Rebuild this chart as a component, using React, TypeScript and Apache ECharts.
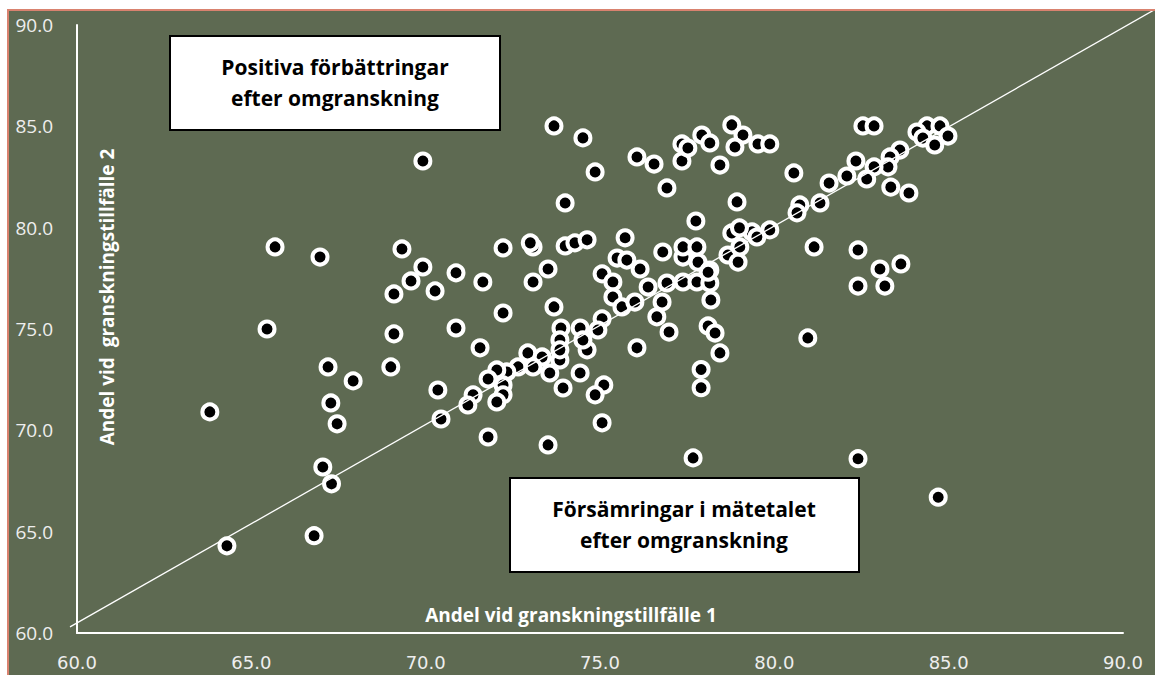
import React, { useEffect, useRef } from "react";
import * as echarts from "echarts";

// Andel vid granskningstillfälle 1 (x) and 2 (y), one entry per unit
const granskning1: number[] = [
  65.68, 66.97, 69.32, 69.92, 69.58, 70.87, 69.09, 70.27, 70.87, 69.09,
  65.45, 67.2, 67.92, 69.0, 70.35, 67.28, 67.46, 63.81, 70.44, 67.05,
  67.3, 64.3, 66.8, 73.68, 74.51, 69.92, 74.86, 76.06, 76.55, 77.35,
  77.35, 76.92, 77.75, 74.0, 72.22, 73.08, 73.0, 74.0, 74.28, 74.63,
  75.72, 75.49, 75.77, 76.8, 76.15, 75.06, 75.37, 76.38, 77.38, 76.78,
  75.37, 75.63, 76.0, 76.63, 76.98, 75.06, 76.06, 73.51, 73.08, 73.68,
  72.22, 71.64, 71.56, 73.88, 74.43, 74.94, 74.63, 73.85, 73.85, 73.56,
  74.43, 73.94, 75.11, 74.86, 72.93, 73.34, 72.65, 73.08, 72.33, 72.04,
  71.79, 72.22, 72.22, 71.36, 77.9, 77.9, 77.38, 77.81, 78.15, 77.78,
  76.92, 78.15, 78.67, 78.96, 78.18, 78.1, 78.3, 78.44, 77.67, 73.51,
  71.79, 75.06, 73.85, 74.51, 72.04, 71.21, 78.78, 79.1, 77.92, 78.15,
  77.52, 78.87, 79.53, 79.87, 78.44, 78.93, 80.56, 82.54, 82.86, 84.38,
  84.75, 84.09, 84.98, 84.26, 84.6, 83.6, 83.32, 83.26, 82.86, 82.34,
  82.65, 83.34, 83.86, 82.08, 81.57, 81.31, 80.73, 80.65, 81.14, 82.4,
  83.63, 83.03, 82.4, 83.17, 80.96, 79.87, 79.36, 78.78, 79.0, 79.01,
  79.5, 77.38, 77.78, 78.1, 82.4, 84.7,
];

const granskning2: number[] = [
  79.05, 78.55, 78.95, 78.06, 77.37, 77.77, 76.73, 76.88, 75.05, 74.76,
  75.0, 73.13, 72.44, 73.13, 71.99, 71.35, 70.32, 70.91, 70.56, 68.19,
  67.36, 64.3, 64.8, 85.02, 84.43, 83.29, 82.75, 83.49, 83.14, 84.13,
  83.29, 81.96, 80.33, 81.22, 79.0, 79.05, 79.25, 79.1, 79.25, 79.4,
  79.5, 78.5, 78.4, 78.8, 77.96, 77.72, 77.32, 77.07, 77.32, 76.33,
  76.58, 76.09, 76.33, 75.6, 74.85, 75.5, 74.07, 77.96, 77.32, 76.09,
  75.79, 77.32, 74.07, 75.05, 75.05, 74.95, 73.97, 74.46, 73.47, 72.83,
  72.83, 72.09, 72.24, 71.75, 73.82, 73.62, 73.13, 73.13, 72.88, 72.98,
  72.53, 72.24, 71.75, 71.75, 73.0, 72.1, 78.55, 78.3, 77.91, 77.32,
  77.27, 77.27, 78.65, 78.3, 76.43, 75.15, 74.8, 73.82, 68.64, 69.28,
  69.67, 70.37, 73.97, 74.46, 71.4, 71.25, 85.07, 84.57, 84.57, 84.18,
  83.93, 83.98, 84.13, 84.13, 83.09, 81.27, 82.7, 85.02, 85.02, 85.02,
  85.02, 84.72, 84.52, 84.42, 84.08, 83.83, 83.49, 83.0, 83.0, 83.29,
  82.4, 82.0, 81.71, 82.55, 82.2, 81.22, 81.12, 80.73, 79.05, 78.9,
  78.21, 77.96, 77.12, 77.12, 74.56, 79.89, 79.79, 79.74, 79.99, 79.05,
  79.54, 79.05, 79.05, 77.8, 68.6, 66.7,
];

// reference diagonal (same value at both occasions): start and end
const diagonalStart: number[] = [59.8, 60.3];
const diagonalEnd: number[] = [90.95, 90.8];

const axisMin = 60;
const axisMax = 90;
const axisStep = 5;

const xTitle = "Andel vid granskningstillfälle 1";
const yTitle = "Andel vid  granskningstillfälle 2";
const boxUpper = "Positiva förbättringar\nefter omgranskning";
const boxLower = "Försämringar i mätetalet\nefter omgranskning";

const BG = "#5e6a52";

export default function App() {
  const ref = useRef<HTMLDivElement>(null);

  useEffect(() => {
    if (!ref.current) return;
    const chart = echarts.init(ref.current, null, { renderer: "svg" });
    const points = granskning1.map((x, i) => [x, granskning2[i]]);

    chart.setOption({
      animation: false,
      backgroundColor: BG,
      grid: { left: 68, right: 32, top: 14, bottom: 42 },
      xAxis: {
        type: "value",
        min: axisMin,
        max: axisMax,
        interval: axisStep,
        axisLine: { show: true, lineStyle: { color: "#ffffff", width: 2 } },
        axisTick: { show: false },
        splitLine: { show: false },
        axisLabel: {
          color: "#eeeeee",
          fontFamily: "DejaVu Sans",
          fontSize: 18,
          margin: 20,
          formatter: (v: number) => v.toFixed(1),
        },
      },
      yAxis: {
        type: "value",
        min: axisMin,
        max: axisMax,
        interval: axisStep,
        axisLine: { show: true, lineStyle: { color: "#ffffff", width: 2 } },
        axisTick: { show: false },
        splitLine: { show: false },
        axisLabel: {
          color: "#eeeeee",
          fontFamily: "Open Sans",
          fontSize: 19,
          margin: 24,
          formatter: (v: number) => v.toFixed(1),
        },
      },
      series: [
        {
          type: "scatter",
          data: points,
          symbol: "circle",
          symbolSize: 15,
          itemStyle: { color: "#000000", borderColor: "#ffffff", borderWidth: 4, opacity: 1 },
          z: 2,
        },
        {
          type: "custom",
          data: [[diagonalStart[0], diagonalStart[1], diagonalEnd[0], diagonalEnd[1]]],
          encode: { x: [0, 2], y: [1, 3] },
          clip: false,
          silent: true,
          z: 3,
          renderItem: (params: any, api: any) => {
            const p0 = api.coord([api.value(0), api.value(1)]);
            const p1 = api.coord([api.value(2), api.value(3)]);
            return {
              type: "line",
              shape: { x1: p0[0], y1: p0[1], x2: p1[0], y2: p1[1] },
              style: { stroke: "#ffffff", lineWidth: 1.3 },
            };
          },
        },
      ],
      graphic: [
        {
          type: "text",
          x: 562,
          y: 604,
          style: {
            text: xTitle,
            fill: "#ffffff",
            font: "bold 19px 'Open Sans'",
            align: "center",
            verticalAlign: "middle",
          },
          z: 10,
        },
        {
          type: "text",
          x: 98,
          y: 286,
          rotation: Math.PI / 2,
          style: {
            text: yTitle,
            fill: "#ffffff",
            font: "bold 19px 'Open Sans'",
            align: "center",
            verticalAlign: "middle",
          },
          z: 10,
        },
        {
          type: "group",
          x: 161,
          y: 25,
          z: 10,
          children: [
            {
              type: "rect",
              shape: { x: 0, y: 0, width: 330, height: 94 },
              style: { fill: "#ffffff", stroke: "#000000", lineWidth: 2 },
            },
            {
              type: "text",
              x: 165,
              y: 46,
              style: {
                text: boxUpper,
                fill: "#000000",
                font: "bold 21px 'Open Sans'",
                lineHeight: 31,
                align: "center",
                verticalAlign: "middle",
              },
            },
          ],
        },
        {
          type: "group",
          x: 501,
          y: 467,
          z: 10,
          children: [
            {
              type: "rect",
              shape: { x: 0, y: 0, width: 349, height: 94 },
              style: { fill: "#ffffff", stroke: "#000000", lineWidth: 2 },
            },
            {
              type: "text",
              x: 174,
              y: 46,
              style: {
                text: boxLower,
                fill: "#000000",
                font: "bold 21px 'Open Sans'",
                lineHeight: 31,
                align: "center",
                verticalAlign: "middle",
              },
            },
          ],
        },
      ],
    });

    return () => {
      chart.dispose();
    };
  }, []);

  return (
    <div
      style={{
        position: "absolute",
        left: 0,
        top: 0,
        width: 1155,
        height: 675,
        background: "#ffffff",
        overflow: "hidden",
      }}
    >
      <div
        style={{
          position: "absolute",
          left: 7,
          top: 9,
          width: 1148,
          height: 666,
          borderLeft: "2px solid #d9826f",
          borderTop: "2px solid #d9826f",
        }}
      >
        <div ref={ref} style={{ width: 1146, height: 664 }} />
      </div>
    </div>
  );
}
